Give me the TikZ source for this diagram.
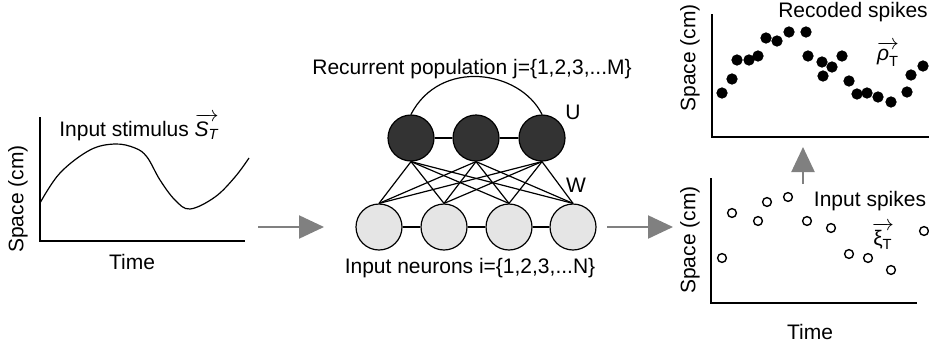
\documentclass[tikz,border=0pt]{standalone}
\usepackage{amsmath}
\usepackage{fontspec}
\setmainfont{Liberation Sans}
\usepackage{tikz}
\usetikzlibrary{arrows.meta,plotmarks}

\begin{document}
\begin{tikzpicture}[
    x=0.5pt, y=-0.5pt,
    every node/.style={font=\fontsize{10.5}{12}\selectfont, inner sep=1pt},
    axis/.style={draw, line width=0.6pt},
    curve/.style={draw, line width=0.6pt},
    recnode/.style={draw, circle, line width=0.6pt, minimum size=23pt, inner sep=0pt, fill=black!80},
    innode/.style={draw, circle, line width=0.6pt, minimum size=23pt, inner sep=0pt, fill=black!10},
    link/.style={draw, line width=0.6pt},
    flow/.style={draw=black!50, line width=1.1pt, -{Triangle[length=12.5pt,width=11.5pt]}},
    ylab/.style={rotate=90}
  ]
  \useasboundingbox (0,0) rectangle (929,348);

  % stimulus plot
  \draw[axis] (40,117) -- (40,241) -- (245,241);
  \draw[curve] plot[smooth, tension=0.6] coordinates {(40,203) (60,173) (90,150) (115,144) (135,148) (147,157) (160,180) (175,200) (190,209) (215,197) (235,177) (249,158)};
  \node[ylab] (stimy) at (18,199) {Space (cm)};
  \node (stimx) at (132,262) {Time};
  \node (stimlab) at (139,127) {Input stimulus $\overrightarrow{\textit{S}_{\textit{T}}}$};

  % network
  \node[recnode] (r1) at (411,138) {};
  \node[recnode] (r2) at (476,138) {};
  \node[recnode] (r3) at (542,138) {};
  \node[innode] (i1) at (379,227) {};
  \node[innode] (i2) at (444,227) {};
  \node[innode] (i3) at (509,227) {};
  \node[innode] (i4) at (573,227) {};

  \draw[link] (r1) -- (r2) -- (r3);
  \draw[link] (i1) -- (i2) -- (i3) -- (i4);
  \draw[link] (r1.north) .. controls (440,58) and (520,70) .. (r3.north);

  % W connections
  \draw[link] (r1.south) -- (i1.north);
  \draw[link] (r1.south) -- (i2.north);
  \draw[link] (r1.south) -- (i3.north);
  \draw[link] (r1.south) -- (i4.north);
  \draw[link] (r2.south) -- (i1.north);
  \draw[link] (r2.south) -- (i2.north);
  \draw[link] (r2.south) -- (i3.north);
  \draw[link] (r2.south) -- (i4.north);
  \draw[link] (r3.south) -- (i1.north);
  \draw[link] (r3.south) -- (i2.north);
  \draw[link] (r3.south) -- (i3.north);
  \draw[link] (r3.south) -- (i4.north);

  \node (reclab) at (472,69) {Recurrent population j=\{1,2,3,...M\}};
  \node (inlab) at (470,268) {Input neurons i=\{1,2,3,...N\}};
  \node (ulab) at (573,112) {U};
  \node (wlab) at (576,185) {W};

  % recoded spikes plot
  \draw[axis] (712,14) -- (712,137) -- (929,137);
  \draw plot[only marks, mark=*, mark size=2.6pt] coordinates {
    (722,93) (732,79) (737,60) (749,60) (758,56) (766,38) (777,41) (789,32)
    (806,32) (808,56) (822,62) (823,76) (832,67) (842,56) (849,81) (857,94)
    (867,93) (878,97) (891,102) (907,92) (911,75) (923,66)};
  \node[ylab] (recy) at (690,58) {Space (cm)};
  \node (reclabel) at (853,12) {Recoded spikes};
  \node (rholab) at (888,54) {$\overrightarrow{\textit{ρ}_{\text{T}}}$};

  % input spikes plot
  \draw[axis] (711,178) -- (711,303) -- (917,303);
  \draw[line width=0.6pt] plot[only marks, mark=o, mark size=2.2pt, mark options={line width=0.7pt}] coordinates {
    (722,258) (732,213) (758,221) (767,202) (788,197) (807,221) (831,228)
    (849,254) (868,258) (891,270) (924,231)};
  \node[ylab] (iny) at (690,240) {Space (cm)};
  \node (inspk) at (870,201) {Input spikes};
  \node (xilab) at (883,236) {$\overrightarrow{\text{ξ}_{\text{T}}}$};
  \node (inx) at (810,332) {Time};

  % flow arrows
  \coordinate (a1s) at (258,227);
  \coordinate (a1e) at (324,227);
  \coordinate (a2s) at (607,227);
  \coordinate (a2e) at (673,227);
  \coordinate (a3s) at (803,184);
  \coordinate (a3e) at (803,147);
  \draw[flow] (a1s) -- (a1e);
  \draw[flow] (a2s) -- (a2e);
  \draw[flow] (a3s) -- (a3e);

\end{tikzpicture}
\end{document}
